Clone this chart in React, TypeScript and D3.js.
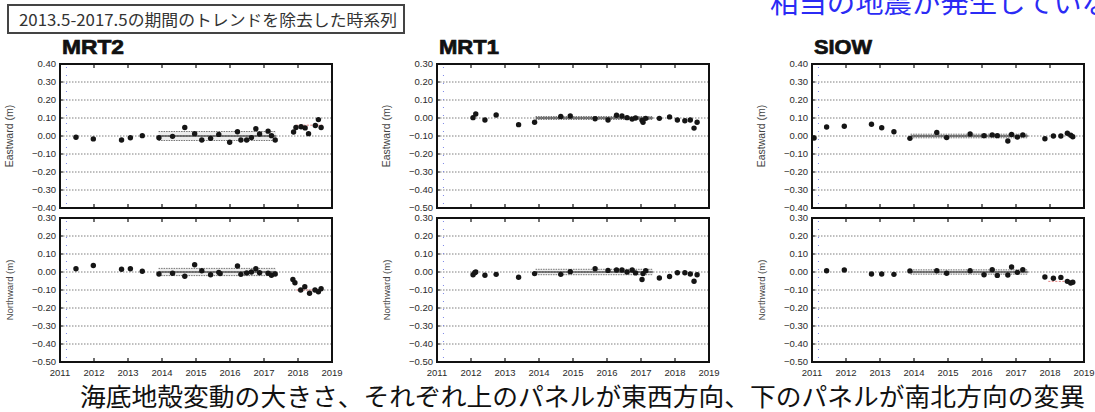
import React from 'react';
import * as d3 from 'd3';

// 年 (decimal year), 値 (m)
const years = [2011, 2012, 2013, 2014, 2015, 2016, 2017, 2018, 2019];

const mrt2East = [
  [2011.47, -0.007], [2011.98, -0.016], [2012.81, -0.022], [2013.07, -0.01], [2013.42, 0.002],
  [2013.91, -0.01], [2014.31, -0.002], [2014.67, 0.047], [2014.96, 0.013], [2015.17, -0.022],
  [2015.43, -0.013], [2015.67, 0.009], [2015.99, -0.035], [2016.22, 0.024], [2016.32, -0.022],
  [2016.49, -0.022], [2016.63, -0.009], [2016.76, 0.04], [2016.87, 0.011], [2017.12, 0.027],
  [2017.22, 0.002], [2017.33, -0.022], [2017.87, 0.022], [2017.94, 0.047], [2018.09, 0.051],
  [2018.21, 0.045], [2018.31, 0.013], [2018.51, 0.058], [2018.6, 0.091], [2018.68, 0.047],
];
const mrt2North = [
  [2011.47, 0.018], [2011.98, 0.036], [2012.81, 0.015], [2013.07, 0.018], [2013.42, 0.004],
  [2013.91, -0.011], [2014.31, -0.007], [2014.67, -0.024], [2014.96, 0.04], [2015.17, 0.007],
  [2015.43, -0.015], [2015.67, -0.002], [2015.71, -0.009], [2016.22, 0.033], [2016.32, -0.013],
  [2016.49, -0.005], [2016.63, 0.0], [2016.76, 0.018], [2016.87, -0.004], [2017.12, -0.007],
  [2017.22, -0.018], [2017.33, -0.011], [2017.85, -0.042], [2017.91, -0.06], [2018.08, -0.1],
  [2018.2, -0.082], [2018.34, -0.118], [2018.5, -0.1], [2018.6, -0.11], [2018.68, -0.093],
];
const mrt1East = [
  [2012.06, 0.002], [2012.14, 0.022], [2012.41, -0.011], [2012.74, 0.017], [2013.4, -0.037],
  [2013.87, -0.024], [2014.64, 0.009], [2014.92, 0.011], [2015.65, -0.004], [2016.03, -0.011],
  [2016.28, 0.015], [2016.44, 0.011], [2016.59, 0.002], [2016.74, -0.006], [2016.84, 0.0],
  [2017.03, -0.013], [2017.06, -0.024], [2017.14, -0.002], [2017.54, -0.002], [2017.84, 0.006],
  [2018.07, -0.011], [2018.29, -0.015], [2018.45, -0.011], [2018.56, -0.056], [2018.65, -0.024],
];
const mrt1North = [
  [2012.06, -0.015], [2012.11, -0.004], [2012.14, 0.0], [2012.41, -0.018], [2012.74, -0.013],
  [2013.4, -0.029], [2013.87, -0.009], [2014.64, -0.013], [2014.92, 0.002], [2015.65, 0.018],
  [2016.03, 0.009], [2016.28, 0.011], [2016.44, 0.011], [2016.59, 0.0], [2016.74, 0.011],
  [2016.84, -0.005], [2017.03, -0.042], [2017.06, -0.009], [2017.14, 0.007], [2017.54, -0.033],
  [2017.84, -0.025], [2018.07, -0.004], [2018.29, -0.004], [2018.45, -0.011], [2018.56, -0.051],
  [2018.65, -0.015],
];
const siowEast = [
  [2011.06, -0.011], [2011.43, 0.05], [2011.95, 0.054], [2012.75, 0.065], [2013.05, 0.046],
  [2013.41, 0.024], [2013.88, -0.013], [2014.67, 0.02], [2014.96, -0.009], [2015.65, 0.011],
  [2016.06, 0.002], [2016.3, 0.006], [2016.45, 0.002], [2016.76, -0.028], [2016.87, 0.009],
  [2017.04, -0.006], [2017.2, 0.006], [2017.85, -0.015], [2018.1, 0.0], [2018.32, 0.0],
  [2018.51, 0.015], [2018.61, 0.004], [2018.67, -0.004],
];
const siowNorth = [
  [2011.43, 0.007], [2011.95, 0.011], [2012.75, -0.011], [2013.05, -0.011], [2013.41, -0.013],
  [2013.88, 0.006], [2014.67, 0.007], [2014.96, -0.007], [2015.65, 0.007], [2016.06, -0.015],
  [2016.3, 0.013], [2016.45, -0.019], [2016.76, -0.017], [2016.87, 0.028], [2017.04, -0.002],
  [2017.2, 0.013], [2017.85, -0.028], [2018.1, -0.035], [2018.32, -0.03], [2018.51, -0.052],
  [2018.61, -0.061], [2018.67, -0.057],
];

const stations = ['MRT2', 'MRT1', 'SIOW'];
const eastDomains = [[-0.4, 0.4], [-0.5, 0.3], [-0.4, 0.4]];
const northDomain = [-0.5, 0.3];
// trend band (solid line at 0 with dotted ± width)
const eastBands = [0.025, 0.008, 0.01];
const northBands = [0.02, 0.015, 0.012];
// post-2018 mean (red dotted), null = none
const eastPost = [0.06, null, null];
const northPost = [-0.1, null, -0.052];
const trendStart = 2013.9;
const trendEnd = 2017.35;
const quakeYear = 2011.19;

const num = '"Liberation Sans", Arial, sans-serif';
const jp = '"Noto Sans CJK JP", "Noto Sans", sans-serif';

type Pt = number[];

function Panel({ left, top, width, height, domain, data, band, post, label, showX }: {
  left: number; top: number; width: number; height: number; domain: number[];
  data: Pt[]; band: number; post: number | null; label: string; showX: boolean;
}) {
  const x = d3.scaleLinear().domain([2011, 2019]).range([left, left + width]);
  const y = d3.scaleLinear().domain(domain).range([top + height, top]);
  const yTicks = d3.range(Math.round(domain[0] * 10), Math.round(domain[1] * 10) + 1).map(v => v / 10);
  const fmt = d3.format('.2f');
  const inner = yTicks.filter(v => v > domain[0] + 1e-6 && v < domain[1] - 1e-6);
  const trend = d3.line<number[]>().x(d => x(d[0])).y(d => y(d[1]));
  return (
    <g>
      {inner.map(v => (
        <line key={'g' + v} x1={left} x2={left + width} y1={y(v)} y2={y(v)}
          stroke="#5e5e5e" strokeWidth={0.8} strokeDasharray="1.5,1.5" />
      ))}
      <line x1={x(quakeYear)} x2={x(quakeYear)} y1={top + 3} y2={top + height}
        stroke="#7d86e8" strokeWidth={1} strokeDasharray="1,7" />
      <rect x={x(trendStart)} y={y(band)} width={x(trendEnd) - x(trendStart)} height={y(-band) - y(band)}
        fill="#d0d0d0" opacity={0.4} />
      {[band, -band].map(b => (
        <line key={'b' + b} x1={x(trendStart)} x2={x(trendEnd)} y1={y(b)} y2={y(b)}
          stroke="#666" strokeWidth={0.9} strokeDasharray="1.5,1" />
      ))}
      <path d={trend([[trendStart, 0], [trendEnd, 0]]) || ''} stroke="#111" strokeWidth={1.1} fill="none" />
      {post !== null && (
        <path d={trend([[2017.95, post], [2018.72, post]]) || ''} stroke="#e07070" strokeWidth={0.9}
          strokeDasharray="2,1.5" fill="none" />
      )}
      {data.map((d, i) => (
        <circle key={i} cx={x(d[0])} cy={y(d[1])} r={2.7} fill="#151515" />
      ))}
      {years.slice(1, -1).map(yr => (
        <g key={'t' + yr}>
          <line x1={x(yr)} x2={x(yr)} y1={top} y2={top + 4} stroke="#111" strokeWidth={1.2} />
          <line x1={x(yr)} x2={x(yr)} y1={top + height} y2={top + height - 4} stroke="#111" strokeWidth={1.2} />
        </g>
      ))}
      {inner.map(v => (
        <line key={'lt' + v} x1={left} x2={left + 3} y1={y(v)} y2={y(v)} stroke="#111" strokeWidth={1} />
      ))}
      <rect x={left} y={top} width={width} height={height} fill="none" stroke="#111" strokeWidth={2} />
      {yTicks.map(v => (
        <text key={'yl' + v} x={left - 4} y={y(v) + 3.3} textAnchor="end" fontFamily={num}
          fontSize={9.5} fill="#2a2a2a">{fmt(v)}</text>
      ))}
      <text transform={`translate(${left - 47},${top + height / 2}) rotate(-90)`} textAnchor="middle"
        fontFamily={num} fontSize={label.startsWith('East') ? 10.5 : 9.5} fill="#444">{label}</text>
      {showX && years.map(yr => (
        <text key={'xl' + yr} x={x(yr)} y={top + height + 14} textAnchor="middle" fontFamily={num}
          fontSize={9.5} fill="#2a2a2a">{yr}</text>
      ))}
    </g>
  );
}

export default function App() {
  const lefts = [60, 437, 812];
  const pw = 272;
  const east = [mrt2East, mrt1East, siowEast];
  const north = [mrt2North, mrt1North, siowNorth];
  const titleW = [62, 60, 58];
  return (
    <svg width={1095} height={412} style={{ position: 'absolute', left: 0, top: 0, background: '#fff' }}>
      <rect x={0} y={0} width={1095} height={412} fill="#fff" />
      <text x={770} y={13} fontFamily={jp} fontSize={27} fill="#2b2bf5" textLength={340}
        lengthAdjust="spacingAndGlyphs">相当の地震が発生していな</text>
      <rect x={8} y={5} width={396} height={28} fill="#fff" stroke="#444" strokeWidth={2} />
      <text x={19} y={25.5} fontFamily={jp} fontSize={16} fill="#333" textLength={378}
        lengthAdjust="spacingAndGlyphs">2013.5-2017.5の期間のトレンドを除去した時系列</text>
      {stations.map((s, i) => (
        <g key={s}>
          <text x={lefts[i] + 2} y={54} fontFamily={num} fontWeight="bold" fontSize={20} fill="#111"
            stroke="#111" strokeWidth={0.7} textLength={titleW[i]} lengthAdjust="spacingAndGlyphs">{s}</text>
          <Panel left={lefts[i]} top={64} width={pw} height={144} domain={eastDomains[i]} data={east[i]}
            band={eastBands[i]} post={eastPost[i]} label="Eastward (m)" showX={false} />
          <Panel left={lefts[i]} top={218} width={pw} height={144} domain={northDomain} data={north[i]}
            band={northBands[i]} post={northPost[i]} label="Northward (m)" showX={true} />
        </g>
      ))}
      <text x={80} y={406} fontFamily={jp} fontSize={25} fill="#111" textLength={1005}
        lengthAdjust="spacingAndGlyphs">海底地殻変動の大きさ、それぞれ上のパネルが東西方向、下のパネルが南北方向の変異</text>
    </svg>
  );
}
